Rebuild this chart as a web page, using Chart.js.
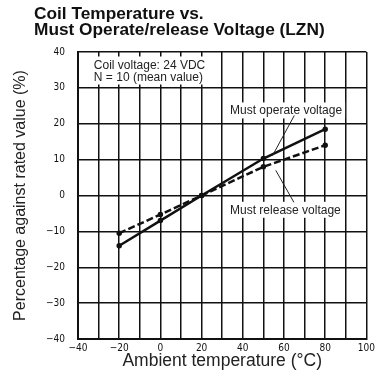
<!DOCTYPE html>
<html>
<head>
<meta charset="utf-8">
<script src="https://cdn.jsdelivr.net/npm/chart.js@4.4.1/dist/chart.umd.min.js"></script>
<style>
  html, body { margin: 0; padding: 0; background: #fff; }
  canvas { display: block; }
</style>
</head>
<body>
<canvas id="tempChart" width="378" height="387"></canvas>
<script>
// ambient temperature (°C) of the measured points
var temps = [-20, 0, 20, 50, 80];
// must operate voltage, % against rated value
var operateVals = [-14, -7, 0, 10.3, 18.5];
// must release voltage, % against rated value
var releaseVals = [-10.5, -5.3, 0, 8, 14];

var xTicks = [-40, -20, 0, 20, 40, 60, 80, 100];
var yTicks = [-40, -30, -20, -10, 0, 10, 20, 30, 40];

var titleLines = ['Coil Temperature vs.', 'Must Operate/release Voltage (LZN)'];
var noteLines = ['Coil voltage: 24 VDC', 'N = 10 (mean value)'];

// text blocks inside the plot, anchored in axis units (left edge, first baseline)
var textBlocks = [
  { x: -32.3, y: 35.4, lines: noteLines },
  { x: 33.8, y: 22.6, lines: ['Must operate voltage'] },
  { x: 33.8, y: -5.1, lines: ['Must release voltage'] }
];
// pointer lines from the labels to the curves
var leaders = [
  { from: [65, 22.3], to: [54.4, 11.1] },
  { from: [56, 7], to: [64.8, -1.9] }
];

var sans = '"Liberation Sans", Arial, Helvetica, sans-serif';
var narrow = '"Liberation Sans Narrow", "DejaVu Sans Condensed", sans-serif';

function toPoints(xs, ys) {
  return xs.map(function(t, i) { return { x: t, y: ys[i] }; });
}

function fmt(v) {
  return v < 0 ? '\u2212' + Math.abs(v) : String(v);
}

var notesPlugin = {
  id: 'notes',
  afterDatasetsDraw: function(chart) {
    var ctx = chart.ctx;
    var sx = chart.scales.x, sy = chart.scales.y;
    ctx.save();
    ctx.font = '12px ' + sans;
    ctx.textBaseline = 'alphabetic';
    ctx.textAlign = 'left';
    textBlocks.forEach(function(b) {
      var px = sx.getPixelForValue(b.x);
      var py = sy.getPixelForValue(b.y);
      var w = 0;
      b.lines.forEach(function(l) { w = Math.max(w, ctx.measureText(l).width); });
      ctx.fillStyle = '#fff';
      ctx.fillRect(px - 3, py - 12, w + 6, b.lines.length * 12 + 4);
      ctx.fillStyle = '#222';
      b.lines.forEach(function(l, i) { ctx.fillText(l, px, py + i * 12); });
    });
    ctx.strokeStyle = '#222';
    ctx.lineWidth = 1;
    leaders.forEach(function(l) {
      ctx.beginPath();
      ctx.moveTo(sx.getPixelForValue(l.from[0]), sy.getPixelForValue(l.from[1]));
      ctx.lineTo(sx.getPixelForValue(l.to[0]), sy.getPixelForValue(l.to[1]));
      ctx.stroke();
    });
    ctx.restore();
  },
  afterDraw: function(chart) {
    var ctx = chart.ctx;
    ctx.save();
    ctx.font = 'bold 17.3px ' + sans;
    ctx.fillStyle = '#111';
    ctx.textBaseline = 'alphabetic';
    ctx.textAlign = 'left';
    ctx.fillText(titleLines[0], 34, 19);
    ctx.fillText(titleLines[1], 34, 35);
    ctx.restore();
  }
};

new Chart(document.getElementById('tempChart').getContext('2d'), {
  type: 'line',
  data: {
    datasets: [{
      label: 'Must operate voltage',
      data: toPoints(temps, operateVals),
      borderColor: '#111',
      backgroundColor: '#111',
      borderWidth: 2.5,
      pointRadius: 1.5,
      tension: 0
    }, {
      label: 'Must release voltage',
      data: toPoints(temps, releaseVals),
      borderColor: '#111',
      backgroundColor: '#111',
      borderWidth: 2.5,
      borderDash: [7, 3],
      pointRadius: 1.5,
      tension: 0
    }]
  },
  options: {
    responsive: false,
    animation: false,
    layout: { padding: { left: 0, right: 8, top: 52, bottom: 0 } },
    plugins: {
      legend: { display: false },
      tooltip: { enabled: false }
    },
    scales: {
      x: {
        type: 'linear',
        min: -40,
        max: 100,
        afterFit: function(scale) { scale.height = 48; },
        grid: { color: '#111', lineWidth: 1.5, drawTicks: false },
        border: { color: '#111', width: 2 },
        ticks: {
          stepSize: 10,
          autoSkip: false,
          maxRotation: 0,
          padding: 3,
          color: '#111',
          font: { family: narrow, size: 10 },
          callback: function(v) { return xTicks.indexOf(v) >= 0 ? fmt(v) : ''; }
        },
        title: {
          display: true,
          text: 'Ambient temperature (\u00b0C)',
          color: '#222',
          font: { family: sans, size: 17.5 },
          padding: { top: 0, bottom: 15 }
        }
      },
      y: {
        min: -40,
        max: 40,
        afterFit: function(scale) { scale.width = 78; },
        grid: { color: '#111', lineWidth: 1.5, drawTicks: false },
        border: { color: '#111', width: 2 },
        ticks: {
          stepSize: 10,
          autoSkip: false,
          padding: 13,
          color: '#111',
          font: { family: narrow, size: 10 },
          callback: function(v) { return yTicks.indexOf(v) >= 0 ? fmt(v) : ''; }
        },
        title: {
          display: true,
          text: 'Percentage against rated value (%)',
          color: '#222',
          font: { family: sans, size: 16 },
          padding: { top: 11, bottom: 0 }
        }
      }
    }
  },
  plugins: [notesPlugin]
});
</script>
</body>
</html>
